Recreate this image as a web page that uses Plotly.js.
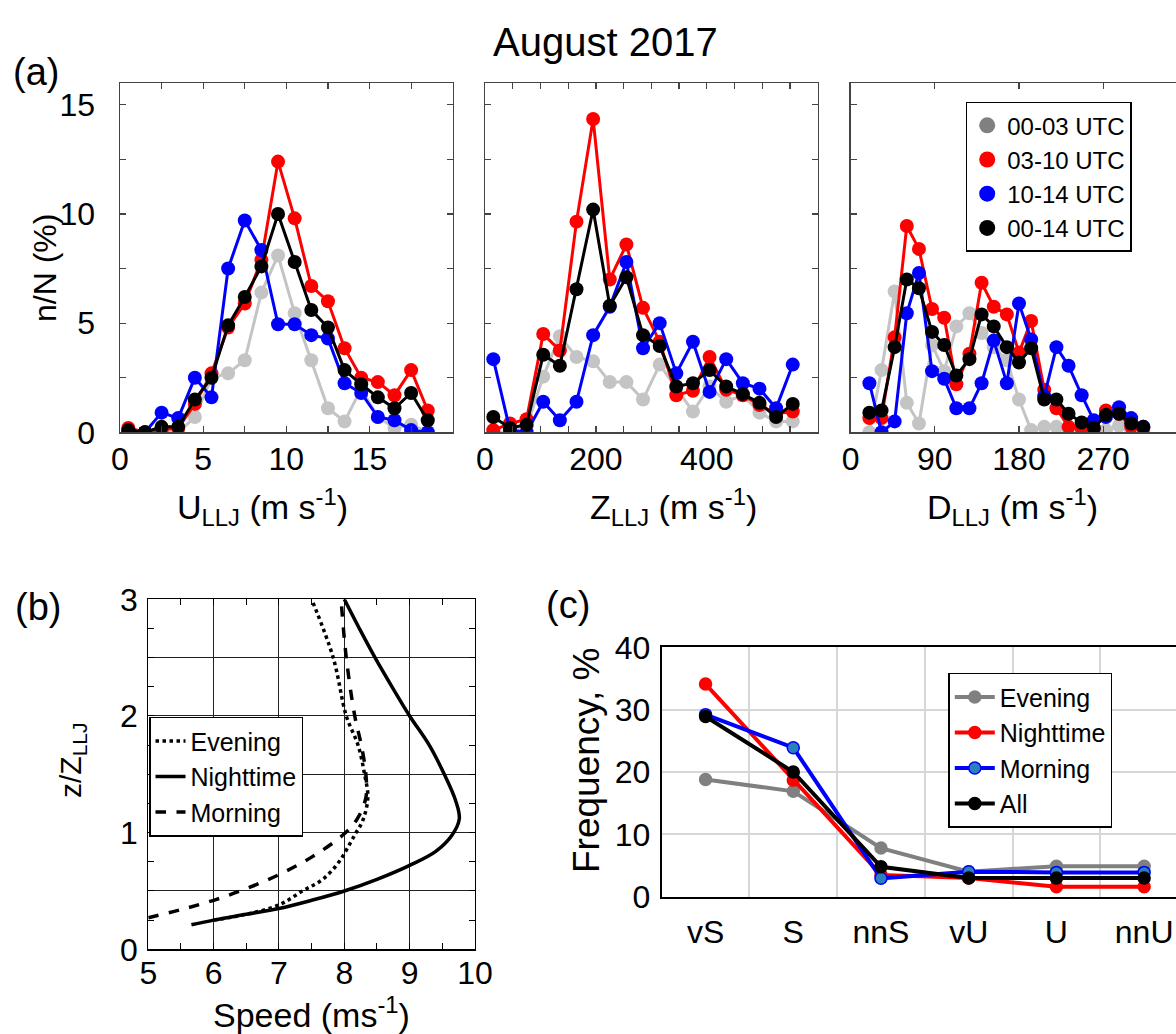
<!DOCTYPE html>
<html>
<head>
<meta charset="utf-8">
<script src="https://cdn.plot.ly/plotly-3.0.1.min.js"></script>
<style>
  html, body { margin: 0; padding: 0; background: #fff; overflow: hidden; }
  #fig { width: 1200px; height: 1034px; }
</style>
</head>
<body>
<div id="fig"></div>
<script>
// ---- (a) LLJ speed histogram, n/N (%) ----
const uBins    = [0.5, 1.5, 2.5, 3.5, 4.5, 5.5, 6.5, 7.5, 8.5, 9.5, 10.5, 11.5, 12.5, 13.5, 14.5, 15.5, 16.5, 17.5, 18.5];
const uEvening = [0, 0, 0, 0, 0.7, 2.5, 2.7, 3.3, 6.4, 8.1, 5.45, 3.3, 1.1, 0.5, 2.0, 0.7, 0.2, 0.35, 0];
const uNight   = [0.2, 0, 0.1, 0.2, 1.3, 2.7, 4.8, 5.9, 7.9, 12.4, 9.8, 6.7, 6.0, 3.85, 2.5, 2.3, 1.7, 2.85, 1.0];
const uMorning = [0, 0, 0.9, 0.65, 2.5, 1.6, 7.5, 9.7, 8.35, 4.95, 4.95, 4.45, 4.3, 2.25, 1.8, 0.7, 0.55, 0.1, 0];
const uAll     = [0.1, 0, 0.25, 0.25, 1.5, 2.5, 4.9, 6.2, 7.6, 10.0, 7.8, 5.6, 4.8, 2.85, 2.2, 1.6, 1.1, 1.8, 0.55];

// ---- (a) LLJ height histogram ----
const zBins    = [15, 45, 75, 105, 135, 165, 195, 225, 255, 285, 315, 345, 375, 405, 435, 465, 495, 525, 555];
const zEvening = [0, 0, 0.25, 2.55, 4.4, 3.45, 3.25, 2.3, 2.3, 1.5, 3.1, 2.0, 0.95, 2.1, 1.4, 1.7, 0.9, 0.5, 0.5];
const zNight   = [0.1, 0.4, 0.6, 4.5, 3.75, 9.65, 14.35, 7.0, 8.6, 5.7, 4.15, 1.7, 1.9, 3.45, 1.95, 1.7, 1.25, 0.85, 0.95];
const zMorning = [3.35, 0.1, 0, 1.4, 0.55, 1.4, 4.45, 5.75, 7.8, 3.85, 5.0, 2.7, 4.15, 1.85, 3.35, 2.25, 2.0, 1.1, 3.1];
const zAll     = [0.7, 0.2, 0.35, 3.55, 3.05, 6.55, 10.2, 5.8, 7.1, 4.45, 3.95, 2.1, 2.25, 2.85, 2.1, 1.75, 1.35, 0.7, 1.3];

// ---- (a) LLJ direction histogram ----
const dBins    = [20, 33, 47, 60, 73, 87, 100, 113, 127, 140, 153, 167, 180, 193, 207, 220, 233, 247, 260, 273, 287, 300, 313];
const dEvening = [0, 2.85, 6.45, 1.35, 0.4, 4.0, 2.8, 4.85, 5.45, 4.55, 3.9, 3.3, 1.5, 0.1, 0.25, 0.25, 0, 0, 0, 0.1, 0.3, 0.1, 0];
const dNight   = [0.65, 0.65, 4.35, 9.45, 8.4, 5.65, 5.25, 2.2, 3.6, 6.85, 5.75, 5.4, 3.65, 5.1, 1.95, 1.1, 0.25, 0.2, 0.2, 1.0, 0.85, 0.25, 0.2];
const dMorning = [2.25, 0, 0.5, 5.45, 7.3, 2.8, 2.45, 1.1, 1.1, 2.25, 4.2, 2.25, 5.9, 4.25, 1.65, 3.9, 3.05, 1.7, 0.55, 0.7, 1.15, 0.65, 0.25];
const dAll     = [0.9, 1.0, 3.9, 7.0, 6.6, 4.6, 4.0, 2.6, 3.35, 5.4, 4.85, 3.9, 3.2, 3.85, 1.5, 1.5, 0.85, 0.45, 0.2, 0.8, 0.85, 0.4, 0.25];

const periodNames = ['00-03 UTC', '03-10 UTC', '10-14 UTC', '00-14 UTC'];

// ---- (b) mean wind profiles, speed (m/s) vs z/Z_LLJ ----
const eveSpeed    = [6.0, 6.5, 7.0, 7.36, 7.67, 7.92, 8.08, 8.18, 8.28, 8.36, 8.31, 8.21, 8.03, 7.83, 7.5];
const eveHeight   = [0.25, 0.3, 0.38, 0.5, 0.6, 0.75, 0.9, 1.0, 1.1, 1.3, 1.5, 1.75, 2.0, 2.5, 3.0];
const nightSpeed  = [5.66, 6.0, 6.5, 7.0, 7.5, 8.0, 8.5, 9.0, 9.4, 9.65, 9.76, 9.7, 9.53, 9.3, 9.0, 8.73, 8.47, 8.23, 8.0];
const nightHeight = [0.21, 0.25, 0.3, 0.35, 0.42, 0.5, 0.6, 0.72, 0.84, 0.98, 1.12, 1.28, 1.5, 1.75, 2.0, 2.25, 2.5, 2.75, 3.0];
const mornSpeed   = [5.0, 5.5, 6.0, 6.5, 7.0, 7.5, 8.0, 8.2, 8.33, 8.33, 8.26, 8.16, 8.03, 7.95];
const mornHeight  = [0.27, 0.34, 0.42, 0.52, 0.64, 0.79, 0.99, 1.12, 1.3, 1.5, 1.75, 2.0, 2.5, 3.0];

// ---- (c) stability regime frequency (%) ----
const regimes  = ['vS', 'S', 'nnS', 'vU', 'U', 'nnU'];
const regimeX  = [1, 2, 3, 4, 5, 6];
const cEvening = [18.8, 16.9, 7.8, 4.0, 4.9, 4.9];
const cNight   = [34.1, 18.7, 3.5, 3.0, 1.6, 1.6];
const cMorning = [29.2, 23.9, 2.95, 4.0, 3.9, 3.9];
const cAll     = [28.9, 20.0, 4.8, 3.0, 3.0, 3.0];

// ---------------- drawing ----------------
const W = 1200, H = 1034;
const FONT = 'Liberation Sans, Arial, Helvetica, sans-serif';
const px = (a, b) => [a / W, b / W];
const py = (top, bottom) => [1 - bottom / H, 1 - top / H];

const lineGray = '#c4c4c4', red = '#ff0000', blue = '#0000ff', black = '#000000';

function histTrace(x, y, color, xa, ya) {
  return {
    x: x, y: y, xaxis: xa, yaxis: ya, type: 'scatter', mode: 'lines+markers',
    line: { color: color, width: 3 },
    marker: { color: color, size: 14 },
    showlegend: false, cliponaxis: true
  };
}

const traces = [];
[[uBins, [uEvening, uNight, uMorning, uAll], 'x', 'y'],
 [zBins, [zEvening, zNight, zMorning, zAll], 'x2', 'y2'],
 [dBins, [dEvening, dNight, dMorning, dAll], 'x3', 'y3']].forEach(function (p) {
  const cols = [lineGray, red, blue, black];
  p[1].forEach(function (series, i) {
    traces.push(histTrace(p[0], series, cols[i], p[2], p[3]));
  });
});

// legend entries for panel (a)
const legendCols = ['#808080', red, blue, black];
periodNames.forEach(function (name, i) {
  traces.push({
    x: [null], y: [null], xaxis: 'x3', yaxis: 'y3', type: 'scatter', mode: 'markers',
    name: name, marker: { color: legendCols[i], size: 16 }, legend: 'legend', showlegend: true
  });
});

// panel (b)
traces.push({ x: eveSpeed, y: eveHeight, xaxis: 'x4', yaxis: 'y4', type: 'scatter', mode: 'lines',
  name: 'Evening', line: { color: black, width: 3.5, dash: 'dot', shape: 'spline', smoothing: 1 }, legend: 'legend2' });
traces.push({ x: nightSpeed, y: nightHeight, xaxis: 'x4', yaxis: 'y4', type: 'scatter', mode: 'lines',
  name: 'Nighttime', line: { color: black, width: 3.5, shape: 'spline', smoothing: 1 }, legend: 'legend2' });
traces.push({ x: mornSpeed, y: mornHeight, xaxis: 'x4', yaxis: 'y4', type: 'scatter', mode: 'lines',
  name: 'Morning', line: { color: black, width: 3.5, dash: 'dash', shape: 'spline', smoothing: 1 }, legend: 'legend2' });

// panel (c)
function regimeTrace(name, y, lc, mc, mlc) {
  return { x: regimeX, y: y, xaxis: 'x5', yaxis: 'y5', type: 'scatter', mode: 'lines+markers', name: name,
    line: { color: lc, width: 4 }, marker: { color: mc, size: 12, line: { color: mlc, width: 1.5 } },
    legend: 'legend3' };
}
traces.push(regimeTrace('Evening', cEvening, '#808080', '#808080', '#808080'));
traces.push(regimeTrace('Nighttime', cNight, red, red, red));
traces.push(regimeTrace('Morning', cMorning, blue, '#2a80bf', blue));
traces.push(regimeTrace('All', cAll, black, black, black));

const tickFont = { family: FONT, size: 32, color: '#000' };
const boxA = { showline: true, linecolor: '#444', linewidth: 1.5, mirror: 'ticks', ticks: 'inside',
  ticklen: 6, tickcolor: '#444', tickwidth: 1.2, showgrid: false, zeroline: false, tickfont: tickFont, fixedrange: true };
const minorA = (d) => ({ dtick: d, tick0: 0, ticks: 'inside', ticklen: 6, tickcolor: '#444', tickwidth: 1.2, showgrid: false });

function ax(extra) { return Object.assign({}, boxA, extra); }

const yA = { range: [0, 16], tickvals: [0, 5, 10, 15], minor: minorA(2.5) };

const layout = {
  width: W, height: H, margin: { l: 0, r: 0, t: 0, b: 0 },
  paper_bgcolor: '#fff', plot_bgcolor: '#fff', font: { family: FONT, color: '#000' },
  xaxis: ax({ domain: px(120, 452.7), anchor: 'y', range: [0, 20],
    tickvals: [0, 5, 10, 15], minor: minorA(2.5), ticklabelstandoff: -2 }),
  yaxis: ax(Object.assign({ domain: py(83, 432.3), anchor: 'x', ticklabelstandoff: 17 }, yA)),
  xaxis2: ax({ domain: px(485, 817.7), anchor: 'y2', range: [0, 600],
    tickvals: [0, 200, 400], minor: minorA(50), ticklabelstandoff: -2 }),
  yaxis2: ax(Object.assign({ domain: py(83, 432.3), anchor: 'x2', showticklabels: false }, yA)),
  xaxis3: ax({ domain: px(850.7, 1187.3), anchor: 'y3', range: [0, 360],
    tickvals: [0, 90, 180, 270], ticklabelstandoff: -2 }),
  yaxis3: ax(Object.assign({ domain: py(83, 432.3), anchor: 'x3', showticklabels: false }, yA)),

  xaxis4: { domain: px(148.3, 475), anchor: 'y4', range: [5, 10], tickvals: [5, 6, 7, 8, 9, 10],
    showline: true, linecolor: '#000', linewidth: 1.2, mirror: 'ticks', ticks: 'inside', ticklen: 6, tickcolor: '#000',
    showgrid: true, gridcolor: '#222', gridwidth: 1, zeroline: false, tickfont: tickFont, ticklabelstandoff: -5,
    minor: { dtick: 0.5, tick0: 5.5, ticks: 'inside', ticklen: 6, tickcolor: '#000', showgrid: false } },
  yaxis4: { domain: py(599.3, 949.3), anchor: 'x4', range: [0, 3],
    tickvals: [0, 0.5, 1, 1.5, 2, 2.5, 3], ticktext: ['0', ' ', '1', ' ', '2', ' ', '3'],
    showline: true, linecolor: '#000', linewidth: 1.2, mirror: 'ticks', ticks: 'inside', ticklen: 6, tickcolor: '#000',
    showgrid: true, gridcolor: '#222', gridwidth: 1, zeroline: false, tickfont: tickFont, ticklabelstandoff: 3,
    minor: { dtick: 0.5, tick0: 0.25, ticks: 'inside', ticklen: 6, tickcolor: '#000', showgrid: false } },

  xaxis5: { domain: px(661.7, 1188), anchor: 'y5', range: [0.5, 6.5], tickvals: regimeX, ticktext: regimes,
    showline: true, linecolor: '#000', linewidth: 2, mirror: true, ticks: '', showgrid: false, zeroline: false,
    tickfont: tickFont, ticklabelstandoff: 6,
    minor: { tickvals: [1.5, 2.5, 3.5, 4.5, 5.5], showgrid: true, gridcolor: '#d6d6d6', gridwidth: 2, ticks: '' } },
  yaxis5: { domain: py(647.3, 896.7), anchor: 'x5', range: [0, 40], tickvals: [0, 10, 20, 30, 40],
    showline: true, linecolor: '#000', linewidth: 2, mirror: true, ticks: '', showgrid: true, gridcolor: '#d6d6d6',
    gridwidth: 2, zeroline: false, tickfont: tickFont, ticklabelstandoff: 3 },

  legend: { x: 965.7 / W, y: 1 - 101.7 / H, xanchor: 'left', yanchor: 'top', bgcolor: '#fff',
    bordercolor: '#000', borderwidth: 1.5, font: { family: FONT, size: 24, color: '#000' },
    itemwidth: 30, tracegroupgap: 0 },
  legend2: { x: 149 / W, y: 1 - 716.7 / H, xanchor: 'left', yanchor: 'top', bgcolor: '#fff',
    bordercolor: '#000', borderwidth: 1.5, font: { family: FONT, size: 25, color: '#000' }, itemwidth: 30 },
  legend3: { x: 948.3 / W, y: 1 - 672.7 / H, xanchor: 'left', yanchor: 'top', bgcolor: '#fff',
    bordercolor: '#000', borderwidth: 1.5, font: { family: FONT, size: 25, color: '#000' }, itemwidth: 40 },

  annotations: []
};

function label(text, x, y, size, angle) {
  layout.annotations.push({ text: text, xref: 'paper', yref: 'paper', x: x / W, y: 1 - y / H,
    xanchor: 'center', yanchor: 'middle', showarrow: false, textangle: angle || 0,
    font: { family: FONT, size: size, color: '#000' } });
}

label('August 2017', 605, 42, 40);
label('(a)', 36, 72, 38);
label('(b)', 38, 607, 38);
label('(c)', 568, 605, 38);
label('n/N (%)', 45, 268, 32, -90);
label('U<sub>LLJ</sub> (m s<sup>-1</sup>)', 262, 507, 34);
label('Z<sub>LLJ</sub> (m s<sup>-1</sup>)', 673, 507, 34);
label('D<sub>LLJ</sub> (m s<sup>-1</sup>)', 1012, 507, 34);
label('z/Z<sub>LLJ</sub>', 72, 760, 30, -90);
label('Speed (ms<sup>-1</sup>)', 311, 1012, 34);
label('Frequency, %', 586, 760, 37, -90);

Plotly.newPlot('fig', traces, layout, { staticPlot: true, displayModeBar: false });
</script>
</body>
</html>
